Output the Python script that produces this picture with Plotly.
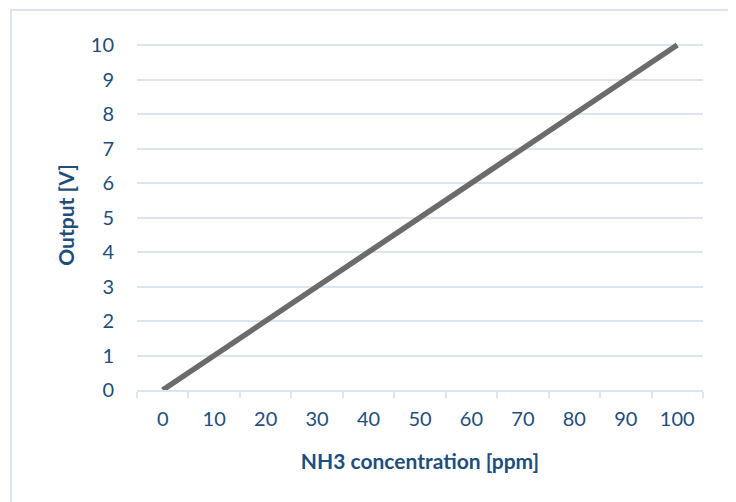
import plotly.graph_objects as go

concentration_ppm = ["0", "10", "20", "30", "40", "50", "60", "70", "80", "90", "100"]
output_v = [0, 1, 2, 3, 4, 5, 6, 7, 8, 9, 10]

TEXT = "#1F4E79"
GRID = "#DCE6F2"
FONT = "Lato"

# page has an 8px body margin, so the figure is offset by 8px
OFF = 8
W, H = 736 - OFF, 502 - OFF
L, R, T, B = 137 - OFF, 33, 40 - OFF, 112
pw, ph = W - L - R, H - T - B

fig = go.Figure()
fig.add_trace(go.Scatter(
    x=concentration_ppm, y=output_v, mode="lines",
    line=dict(color="#6B6B6B", width=5.5),
    showlegend=False, hoverinfo="skip",
))

fig.update_layout(
    width=W, height=H,
    margin=dict(l=L, r=R, t=T, b=B, pad=0),
    paper_bgcolor="white", plot_bgcolor="white",
    font=dict(family=FONT, color=TEXT, size=20),
    xaxis=dict(
        type="category", tickson="boundaries", ticks="outside",
        ticklen=6, tickcolor=GRID, tickwidth=2,
        showline=True, linecolor=GRID, linewidth=2,
        showgrid=False, zeroline=False,
        tickfont=dict(size=20, color=TEXT),
        ticklabelstandoff=10,
        title=dict(text="<b>NH3 concentration [ppm]</b>", font=dict(size=21, color=TEXT), standoff=25),
        range=[-0.5, 10.5],
    ),
    yaxis=dict(
        range=[0, 10 * ph / 345.0], dtick=1, tick0=0,
        showgrid=True, gridcolor=GRID, gridwidth=2,
        zeroline=False, showline=False, ticks="",
        tickfont=dict(size=20, color=TEXT),
        ticklabelstandoff=22,
        title=dict(text="<b>Output [V]</b>", font=dict(size=21, color=TEXT), standoff=10),
    ),
    shapes=[dict(
        type="rect", xref="paper", yref="paper", layer="below",
        x0=(11 - OFF - L) / pw, x1=(760 - L) / pw,
        y0=-(530 - (H - B)) / ph, y1=1 + (T - (10 - OFF)) / ph,
        line=dict(color=GRID, width=2), fillcolor="rgba(0,0,0,0)",
    )],
)

fig.write_html("out.html")
